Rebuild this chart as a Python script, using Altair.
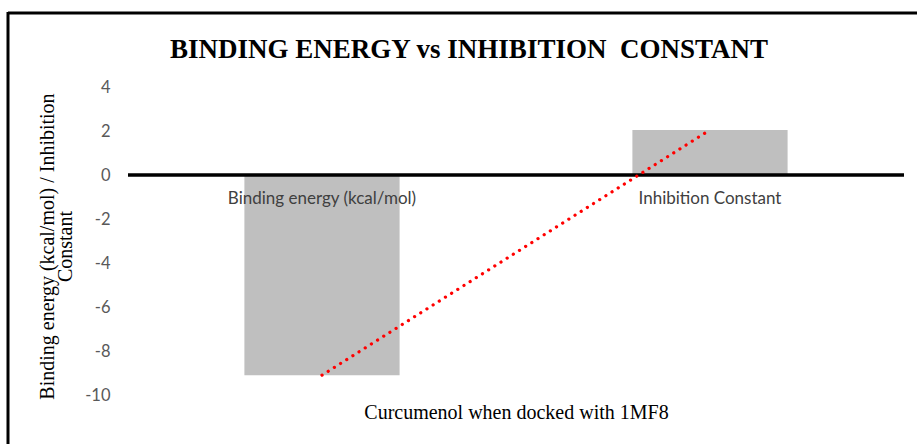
import altair as alt
import pandas as pd

# Chart data
categories = ["Binding energy (kcal/mol)", "Inhibition Constant"]
values = [-9.1, 2.05]
y_ticks = [4, 2, 0, -2, -4, -6, -8, -10]

df = pd.DataFrame({"category": categories, "value": values})

# Plot-area geometry (pixels)
PLOT_W, PLOT_H = 776, 308
PAD = {"left": 128, "top": 87, "right": 13, "bottom": 49}
TOTAL_W, TOTAL_H = 917, 444

SERIF = "Liberation Serif"
SANS = "Lato"

x_enc = alt.X(
    "category:N",
    sort=categories,
    scale=alt.Scale(paddingInner=0.6, paddingOuter=0.3),
    axis=alt.Axis(
        labels=False, ticks=False, domain=False,
        title="Curcumenol when docked with 1MF8",
        titleFont=SERIF, titleFontSize=20, titleFontWeight="normal",
        titleColor="black", titleBaseline="alphabetic", titleY=23,
    ),
)
y_scale = alt.Scale(domain=[-10, 4], nice=False, zero=False)
y_enc = alt.Y(
    "value:Q",
    scale=y_scale,
    axis=alt.Axis(
        values=y_ticks, grid=False, ticks=False, domain=False,
        labelExpr="'' + datum.value",
        labelFont=SANS, labelFontSize=16.5, labelColor="#595959", labelPadding=18,
        title=["Binding energy (kcal/mol) / Inhibition", "Constant"],
        titleFont=SERIF, titleFontSize=20, titleFontWeight="normal",
        titleColor="black", titleLineHeight=18, titleAngle=270,
        titleAlign="center", titleBaseline="top", titleX=-91, titleY=159,
    ),
)

base = alt.Chart(df)

bars = base.mark_bar(color="#BFBFBF").encode(x=x_enc, y=y_enc)

zero_line = base.mark_rule(color="black", strokeWidth=3).encode(y=alt.datum(0))

trend = base.mark_line(
    color="#FF0000", strokeWidth=3.2, strokeDash=[0.1, 7.2], strokeCap="round"
).encode(x=alt.X("category:N", sort=categories), y=alt.Y("value:Q"))

cat_labels = base.mark_text(
    font=SANS, fontSize=17, color="#404040", baseline="alphabetic", dy=29
).encode(x=alt.X("category:N", sort=categories), y=alt.datum(0), text="category:N")

# Outer frame around the whole figure
frame_src = alt.Data(values=[{"k": 1}])
frame_top = alt.Chart(frame_src).mark_rule(color="black", strokeWidth=3).encode(
    x=alt.value(8 - PAD["left"]), x2=alt.value(TOTAL_W),
    y=alt.value(13 - PAD["top"]),
)
frame_left = alt.Chart(frame_src).mark_rule(color="black", strokeWidth=3).encode(
    x=alt.value(8 - PAD["left"]),
    y=alt.value(12 - PAD["top"]), y2=alt.value(TOTAL_H),
)

chart = (
    alt.layer(bars, zero_line, trend, cat_labels, frame_top, frame_left)
    .properties(
        width=PLOT_W,
        height=PLOT_H,
        autosize=alt.AutoSizeParams(type="none"),
        padding=PAD,
        background="white",
        title=alt.TitleParams(
            text="BINDING ENERGY vs INHIBITION\u00a0 CONSTANT",
            font=SERIF, fontSize=27, fontWeight="bold", color="black",
            anchor="middle", frame="group", dx=-47,
            baseline="alphabetic", offset=-74.5,
        ),
    )
    .configure_view(stroke=None)
)

chart.save("out.html", embed_options={"renderer": "svg", "actions": False})
